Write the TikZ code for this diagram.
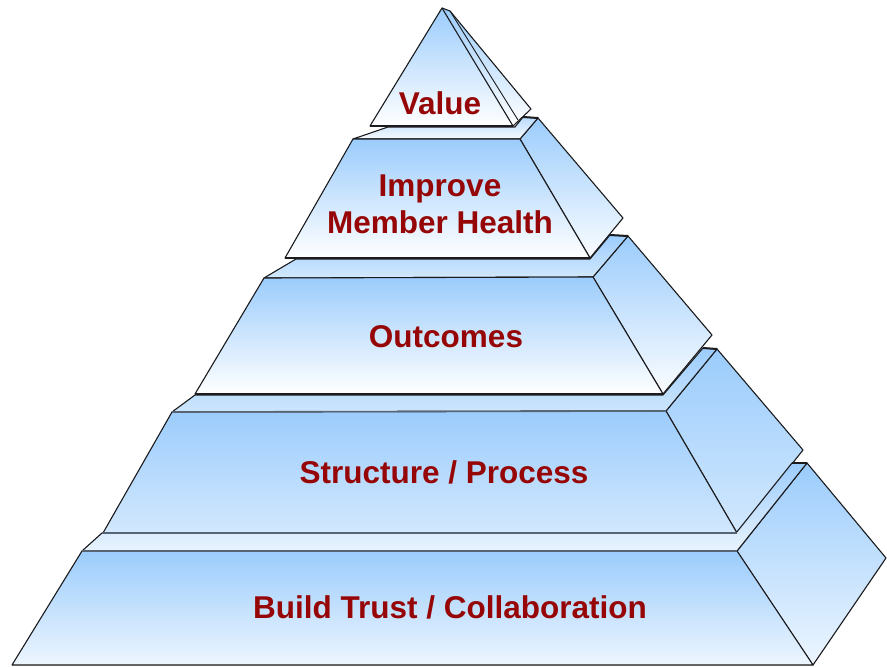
\documentclass[tikz,border=0pt]{standalone}
\usepackage{fontspec}
\setmainfont{Liberation Sans}
\definecolor{tblue}{RGB}{155,204,252}
\definecolor{edge}{RGB}{28,28,30}
\definecolor{slate}{RGB}{88,100,114}
\definecolor{lblred}{RGB}{150,6,6}
\begin{document}
\begin{tikzpicture}[x=1pt,y=-1pt,
  face/.style={draw=edge, line width=1.1pt, line join=round},
  lbl/.style={font=\bfseries\fontsize{31.5}{37}\selectfont, text=lblred, align=center, inner sep=0pt}]
\useasboundingbox (0,0) rectangle (887,667);

% ---------- tier 1 : Value ----------
\coordinate (t1a) at (442,8);
\coordinate (t1b) at (450,11);
\coordinate (t1r) at (531,109);
\coordinate (t1l) at (370,126);
\coordinate (t1e) at (513,126);
\fill[top color=tblue, bottom color=white] (t1a) -- (t1b) -- (t1r) -- (t1e) -- cycle;
\draw[face] (t1a) -- (t1b) -- (t1r) -- (t1e);
\draw[edge, line width=0.9pt] (t1b) -- (518,120);
\filldraw[face, top color=tblue, bottom color=white] (t1l) -- (t1a) -- (t1e) -- cycle;

% ---------- tier 2 : Improve Member Health ----------
\coordinate (t2fl) at (285,258);
\coordinate (t2fr) at (590,258);
\coordinate (t2tr) at (520,139);
\coordinate (t2tl) at (353,139);
\coordinate (t2ll) at (388,127);
\coordinate (t2lr) at (515,127);
\coordinate (t2s1) at (523,117);
\coordinate (t2s2) at (538,118);
\coordinate (t2sr) at (623,218);
\filldraw[face, top color=tblue, bottom color=white!96!tblue] (t2tr) -- (t2s2) -- (t2sr) -- (t2fr) -- cycle;
\filldraw[face, top color=tblue!70!white, bottom color=white!90!tblue] (t2tl) -- (t2ll) -- (t2lr) -- (t2s1) -- (t2s2) -- (t2tr) -- cycle;
\filldraw[face, top color=tblue, bottom color=white] (t2fl) -- (t2tl) -- (t2tr) -- (t2fr) -- cycle;

% ---------- tier 3 : Outcomes ----------
\coordinate (t3fl) at (195,394);
\coordinate (t3fr) at (663,394);
\coordinate (t3tr) at (593,277);
\coordinate (t3tl) at (264,278);
\coordinate (t3ll) at (296,259);
\coordinate (t3lr) at (590,259);
\coordinate (t3s1) at (610,235);
\coordinate (t3s2) at (628,236);
\coordinate (t3sr) at (712,335);
\filldraw[face, top color=tblue, bottom color=white!96!tblue] (t3tr) -- (t3s2) -- (t3sr) -- (t3fr) -- cycle;
\filldraw[face, top color=tblue, bottom color=tblue!45!white] (t3tl) -- (t3ll) -- (t3lr) -- (t3s1) -- (t3s2) -- (t3tr) -- cycle;
\filldraw[face, top color=tblue, bottom color=white] (t3fl) -- (t3tl) -- (t3tr) -- (t3fr) -- cycle;

% ---------- tier 4 : Structure / Process ----------
\coordinate (t4fl) at (103,533);
\coordinate (t4fr) at (737,533);
\coordinate (t4tr) at (666,411);
\coordinate (t4tl) at (172,412);
\coordinate (t4ll) at (195,395);
\coordinate (t4lr) at (663,395);
\coordinate (t4s1) at (703,348);
\coordinate (t4s2) at (717,349);
\coordinate (t4sr) at (803,450);
\filldraw[face, top color=tblue, bottom color=tblue!45!white] (t4tr) -- (t4s2) -- (t4sr) -- (t4fr) -- cycle;
\filldraw[face, top color=tblue, bottom color=tblue!50!white] (t4tl) -- (t4ll) -- (t4lr) -- (t4s1) -- (t4s2) -- (t4tr) -- cycle;
\filldraw[face, top color=tblue, bottom color=tblue!45!white] (t4fl) -- (t4tl) -- (t4tr) -- (t4fr) -- cycle;

% ---------- tier 5 : Build Trust / Collaboration ----------
\coordinate (t5fl) at (12,665);
\coordinate (t5fr) at (813,665);
\coordinate (t5tr) at (737,551);
\coordinate (t5tl) at (82,551);
\coordinate (t5ll) at (102,533);
\coordinate (t5lr) at (736,533);
\coordinate (t5s1) at (792,463);
\coordinate (t5s2) at (807,463);
\coordinate (t5sr) at (886,558);
\filldraw[face, top color=tblue, bottom color=tblue!18!white] (t5tr) -- (t5s2) -- (t5sr) -- (t5fr) -- cycle;
\filldraw[face, top color=tblue, bottom color=tblue!22!white] (t5tl) -- (t5ll) -- (t5lr) -- (t5s1) -- (t5s2) -- (t5tr) -- cycle;
\filldraw[face, top color=tblue, bottom color=tblue!18!white] (t5fl) -- (t5tl) -- (t5tr) -- (t5fr) -- cycle;

% heavy lower rims of the front faces
\draw[edge, line width=2.2pt] (t1l) -- (t1e);
\draw[edge, line width=2.2pt] (t2fl) -- (t2fr);
\draw[edge, line width=2.2pt] (t3fl) -- (t3fr);
\draw[slate, line width=2.2pt] (t4fl) -- (t4fr);
\draw[slate, line width=1.6pt] (t5tl) -- (t5tr);
\draw[slate, line width=1.6pt] (t4tl) -- (t4tr);
\draw[edge, line width=2pt] (t5s1) -- (t5s2);
\draw[edge, line width=2pt] (t4s1) -- (t4s2);
\draw[edge, line width=2pt] (t3s1) -- (t3s2);
\draw[edge, line width=2pt] (t2s1) -- (t2s2);

% ---------- labels ----------
\node[lbl] (v) at (440,103) {Value};
\node[lbl] (h) at (440,204) {Improve\\Member Health};
\node[lbl] (o) at (446,337) {Outcomes};
\node[lbl] (s) at (444,472) {Structure / Process};
\node[lbl] (b) at (450,607) {Build Trust / Collaboration};
\end{tikzpicture}
\end{document}
